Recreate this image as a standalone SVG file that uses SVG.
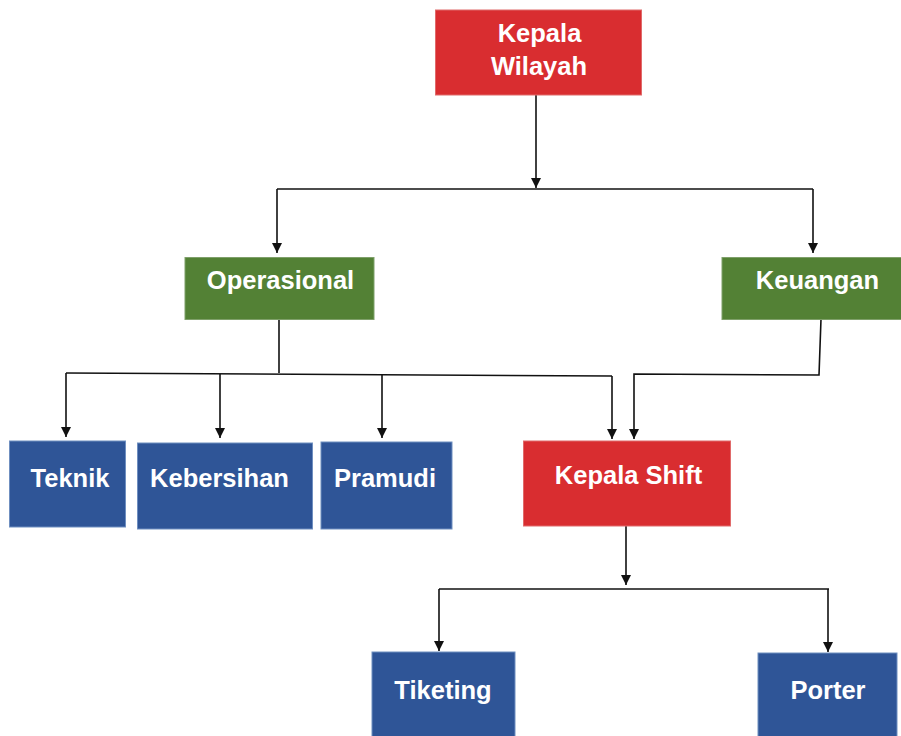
<svg xmlns="http://www.w3.org/2000/svg" width="901" height="736" viewBox="0 0 901 736">
<style>
.red{fill:#d92d30;stroke:#e06a6a;stroke-width:1}
.green{fill:#538135;stroke:#7fa06a;stroke-width:1}
.blue{fill:#2f5597;stroke:#6f8fc0;stroke-width:1}
text{font-family:"Liberation Sans",Arial,sans-serif;font-weight:bold;font-size:25.5px;fill:#ffffff;text-anchor:middle}
.c{fill:none;stroke:#111111;stroke-width:1.6}
</style>
<defs>
<marker id="ah" viewBox="0 0 10 10" refX="10" refY="5" markerWidth="10" markerHeight="10" markerUnits="userSpaceOnUse" orient="auto">
<path d="M0,0 L10,5 L0,10 Z" fill="#111111"/>
</marker>
</defs>
<rect width="901" height="736" fill="#ffffff"/>
<g id="connectors">
<path class="c" d="M536,95 L536,188" marker-end="url(#ah)"/>
<path class="c" d="M277,189 L813,189"/>
<path class="c" d="M277,189 L277,253" marker-end="url(#ah)"/>
<path class="c" d="M813,189 L813,253" marker-end="url(#ah)"/>
<path class="c" d="M279,319 L279,373"/>
<path class="c" d="M66,373 L612,376"/>
<path class="c" d="M66,373 L66,437" marker-end="url(#ah)"/>
<path class="c" d="M220,374 L220,438" marker-end="url(#ah)"/>
<path class="c" d="M382,375 L382,438" marker-end="url(#ah)"/>
<path class="c" d="M612,376 L612,439" marker-end="url(#ah)"/>
<path class="c" d="M821,319 L819,375 L634,374 L634,439" marker-end="url(#ah)"/>
<path class="c" d="M626,526 L626,585" marker-end="url(#ah)"/>
<path class="c" d="M439,589 L829,589"/>
<path class="c" d="M439,589 L439,651" marker-end="url(#ah)"/>
<path class="c" d="M828,589 L828,652" marker-end="url(#ah)"/>
</g>
<g id="kepala-wilayah">
<rect class="red" x="435.5" y="10" width="206" height="85"/>
<text x="539.5" y="42">Kepala</text>
<text x="539" y="75">Wilayah</text>
</g>
<g id="operasional">
<rect class="green" x="185" y="257.5" width="189" height="62"/>
<text x="280.5" y="289">Operasional</text>
</g>
<g id="keuangan">
<rect class="green" x="722" y="257.5" width="190" height="62"/>
<text x="817.5" y="289">Keuangan</text>
</g>
<g id="teknik">
<rect class="blue" x="9.5" y="441" width="116" height="86"/>
<text x="70" y="487">Teknik</text>
</g>
<g id="kebersihan">
<rect class="blue" x="137.5" y="443" width="175" height="86"/>
<text x="219.5" y="487">Kebersihan</text>
</g>
<g id="pramudi">
<rect class="blue" x="321" y="442" width="131" height="87"/>
<text x="385" y="487">Pramudi</text>
</g>
<g id="kepala-shift">
<rect class="red" x="523.5" y="441" width="207" height="85"/>
<text x="628.5" y="484">Kepala Shift</text>
</g>
<g id="tiketing">
<rect class="blue" x="372" y="652" width="143" height="90"/>
<text x="443" y="699">Tiketing</text>
</g>
<g id="porter">
<rect class="blue" x="758" y="653" width="139" height="90"/>
<text x="828" y="699">Porter</text>
</g>
</svg>
